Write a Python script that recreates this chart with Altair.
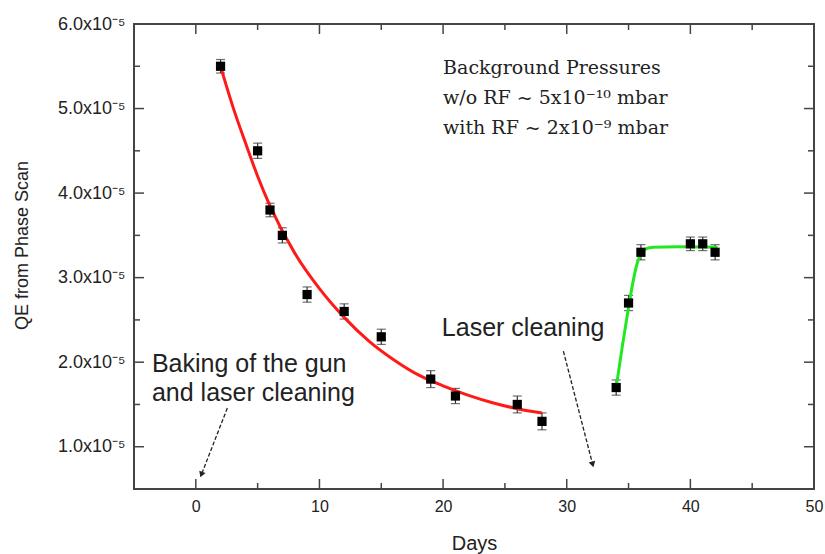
import altair as alt
import pandas as pd

# ---------------- data (QE in units of 1e-5) ----------------
days_red = [2, 5, 6, 7, 9, 12, 15, 19, 21, 26, 28]
qe_red = [5.50, 4.50, 3.80, 3.50, 2.80, 2.60, 2.30, 1.80, 1.60, 1.50, 1.30]
err_red = [0.08, 0.09, 0.08, 0.09, 0.09, 0.09, 0.09, 0.10, 0.09, 0.10, 0.10]

days_green = [34, 35, 36, 40, 41, 42]
qe_green = [1.70, 2.70, 3.30, 3.40, 3.40, 3.30]
err_green = [0.09, 0.09, 0.09, 0.08, 0.08, 0.09]

fit_red_days = [2, 3, 4, 5, 6, 8, 10, 12, 14, 16, 18, 20, 22, 24, 26, 28]
fit_red_qe = [5.50, 5.02, 4.60, 4.20, 3.85, 3.29, 2.87, 2.53, 2.25, 2.03, 1.85, 1.72, 1.61, 1.52, 1.45, 1.40]

fit_green_days = [34.0, 34.5, 35.0, 35.4, 35.7, 36.0, 36.4, 37.0, 39.0, 42.2]
fit_green_qe = [1.70, 2.19, 2.65, 2.98, 3.17, 3.28, 3.34, 3.36, 3.365, 3.36]

x_labels = [0, 10, 20, 30, 40, 50]
y_labels = [1, 2, 3, 4, 5, 6]
x_major = [0, 10, 20, 30, 40]
x_minor = [5, 15, 25, 35, 45]
y_major = [1, 2, 3, 4, 5]
y_minor = [1.5, 2.5, 3.5, 4.5, 5.5]

notes_sans = [
    {"x": -3.55, "y": 1.98, "text": "Baking of the gun"},
    {"x": -3.55, "y": 1.64, "text": "and laser cleaning"},
    {"x": 19.9, "y": 2.40, "text": "Laser cleaning"},
]
notes_serif = [
    {"x": 20.0, "y": 5.48, "text": "Background Pressures"},
    {"x": 20.0, "y": 5.13, "text": "w/o RF ~ 5x10⁻¹⁰ mbar"},
    {"x": 20.0, "y": 4.77, "text": "with RF ~ 2x10⁻⁹ mbar"},
]
arrows = [
    {"x": 2.55, "y": 1.457, "x2": 0.45, "y2": 0.67, "ang": 201},
    {"x": 29.73, "y": 2.13, "x2": 32.1, "y2": 0.79, "ang": 165.5},
]

# ---------------- frames ----------------
pts = pd.DataFrame({
    "day": days_red + days_green,
    "qe": qe_red + qe_green,
    "err": err_red + err_green,
})
pts["lo"] = pts["qe"] - pts["err"]
pts["hi"] = pts["qe"] + pts["err"]
fit_red = pd.DataFrame({"day": fit_red_days, "qe": fit_red_qe})
fit_green = pd.DataFrame({"day": fit_green_days, "qe": fit_green_qe})

W, H = 680, 465
SANS = "Liberation Sans"
TXT = "#222222"
ERR = "#333333"
TICK = "#444444"

xs = alt.Scale(domain=[-5, 50], nice=False, zero=False)
ys = alt.Scale(domain=[0.5, 6.0], nice=False, zero=False)

x_axis = alt.Axis(title="Days", values=x_labels, ticks=False, domain=False, grid=False,
                  labelFont=SANS, labelFontSize=16, labelColor=TXT, labelPadding=9,
                  labelFlush=False, labelOverlap=False,
                  titleFont=SANS, titleFontSize=20, titleFontWeight="normal", titleColor=TXT,
                  titleY=54, titleBaseline="middle")
y_axis = alt.Axis(title="QE from Phase Scan", values=y_labels,
                  labelExpr="format(datum.value, '.1f') + 'x10⁻⁵'",
                  ticks=False, domain=False, grid=False,
                  labelFont=SANS, labelFontSize=18, labelColor=TXT, labelPadding=9,
                  labelFlush=False, labelOverlap=False,
                  titleFont=SANS, titleFontSize=18, titleFontWeight="normal", titleColor=TXT,
                  titleX=-112, titleY=221, titleBaseline="middle")


def X(f):
    return alt.X(f"{f}:Q", scale=xs, axis=x_axis)


def Y(f):
    return alt.Y(f"{f}:Q", scale=ys, axis=y_axis)


err_rule = alt.Chart(pts).mark_rule(color=ERR, strokeWidth=1.2).encode(x=X("day"), y=Y("lo"), y2="hi")
cap_lo = alt.Chart(pts).mark_tick(orient="horizontal", size=9, thickness=1.2, color=ERR).encode(x=X("day"), y=Y("lo"))
cap_hi = alt.Chart(pts).mark_tick(orient="horizontal", size=9, thickness=1.2, color=ERR).encode(x=X("day"), y=Y("hi"))

line_red = alt.Chart(fit_red).mark_line(color="#ff1a1a", strokeWidth=3, interpolate="monotone").encode(x=X("day"), y=Y("qe"))
line_green = alt.Chart(fit_green).mark_line(color="#22e822", strokeWidth=3, interpolate="monotone").encode(x=X("day"), y=Y("qe"))

squares = alt.Chart(pts).mark_square(size=85, color="black", opacity=1).encode(x=X("day"), y=Y("qe"))


def xticks(vals, length, top):
    df = pd.DataFrame({"v": vals})
    if top:
        yy = dict(y=alt.value(0), y2=alt.value(length))
    else:
        yy = dict(y=alt.value(H), y2=alt.value(H - length))
    return alt.Chart(df).mark_rule(color=TICK, strokeWidth=1.5).encode(x=X("v"), **yy)


def yticks(vals, length, right):
    df = pd.DataFrame({"v": vals})
    if right:
        xx = dict(x=alt.value(W), x2=alt.value(W - length))
    else:
        xx = dict(x=alt.value(0), x2=alt.value(length))
    return alt.Chart(df).mark_rule(color=TICK, strokeWidth=1.5).encode(y=Y("v"), **xx)


ticks = [
    xticks(x_major, 10, False), xticks(x_minor, 6, False),
    xticks(x_major, 10, True), xticks(x_minor, 6, True),
    yticks(y_major, 10, False), yticks(y_minor, 6, False),
    yticks(y_major, 10, True), yticks(y_minor, 6, True),
]

txt_sans = alt.Chart(pd.DataFrame(notes_sans)).mark_text(
    align="left", baseline="middle", font=SANS, fontSize=25, color=TXT
).encode(x=X("x"), y=Y("y"), text="text:N")
txt_serif = alt.Chart(pd.DataFrame(notes_serif)).mark_text(
    align="left", baseline="middle", font="DejaVu Serif", fontSize=19, color=TXT
).encode(x=X("x"), y=Y("y"), text="text:N")

arr_df = pd.DataFrame(arrows)
arr_line = alt.Chart(arr_df).mark_rule(color=TXT, strokeWidth=1.3, strokeDash=[4, 2]).encode(
    x=X("x"), y=Y("y"), x2="x2", y2="y2")
arr_head = alt.Chart(arr_df).mark_point(shape="triangle-up", filled=True, size=45, color=TXT, opacity=1).encode(
    x=X("x2"), y=Y("y2"), angle=alt.Angle("ang:Q", scale=None))

chart = alt.layer(
    *ticks, err_rule, cap_lo, cap_hi, line_red, line_green, squares,
    txt_sans, txt_serif, arr_line, arr_head
).properties(
    width=W, height=H,
    autosize=alt.AutoSizeParams(type="none"),
    padding={"left": 134, "top": 24, "right": 11, "bottom": 65},
    background="white",
).configure_view(stroke="#444444", strokeWidth=2)

chart.save("out.html", embed_options={"renderer": "svg", "actions": False})
